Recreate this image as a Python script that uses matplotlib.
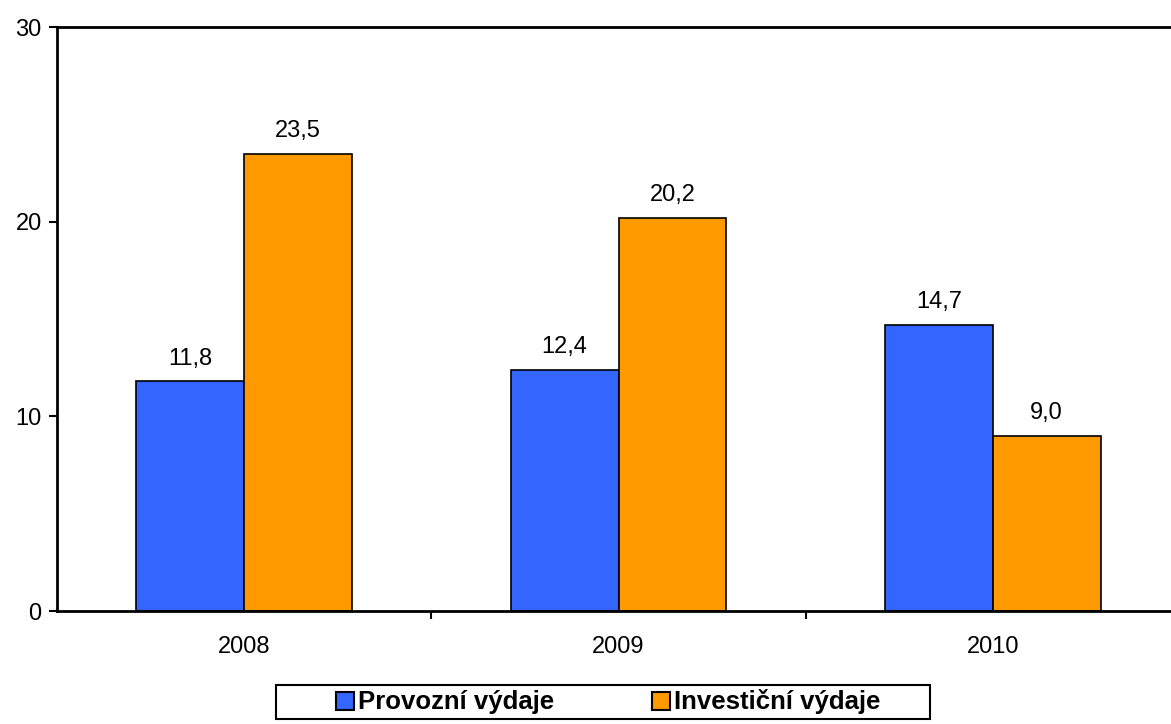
import numpy as np
import matplotlib.pyplot as plt
from matplotlib.patches import Patch, Rectangle

plt.rcParams['font.family'] = ['Liberation Sans', 'DejaVu Sans']

years = ['2008', '2009', '2010']
provozni = [11.8, 12.4, 14.7]
investicni = [23.5, 20.2, 9.0]
series_names = ['Provozní výdaje', 'Investiční výdaje']
colors = ['#3366FF', '#FF9900']

W, H = 1171, 724
fig = plt.figure(figsize=(W / 100, H / 100), dpi=100)
ax = fig.add_axes([57 / W, 1 - 611 / H, 1123 / W, 584 / H])

x = np.arange(len(years))
w = 0.288
b1 = ax.bar(x - w / 2, provozni, w, color=colors[0], edgecolor='black', linewidth=1.2)
b2 = ax.bar(x + w / 2, investicni, w, color=colors[1], edgecolor='black', linewidth=1.2)

for bars, vals in ((b1, provozni), (b2, investicni)):
    for r, v in zip(bars, vals):
        ax.annotate(f'{v:.1f}'.replace('.', ','), (r.get_x() + r.get_width() / 2, v),
                    xytext=(0, 12), textcoords='offset points', ha='center', va='baseline',
                    fontsize=17)

ax.set_xlim(-0.5, 2.5)
ax.set_ylim(0, 30)
ax.set_yticks([0, 10, 20, 30])
ax.tick_params(axis='y', direction='out', length=6, width=1.5, labelsize=17, pad=5)
ax.set_xticks([0.5, 1.5], minor=False)
ax.set_xticklabels([])
ax.set_xticks(x, minor=True)
ax.set_xticklabels(years, minor=True)
ax.tick_params(axis='x', which='major', direction='out', length=6, width=1.5)
ax.tick_params(axis='x', which='minor', length=0, labelsize=17, pad=18)
for s in ax.spines.values():
    s.set_linewidth(2)

# legend box
fig.patches.append(Rectangle((276 / W, 1 - 719 / H), 654 / W, 34 / H, transform=fig.transFigure,
                             facecolor='white', edgecolor='black', linewidth=1.5))
handles = [Patch(facecolor=c, edgecolor='black', linewidth=1.5) for c in colors]
leg = fig.legend(handles, series_names, loc='center', bbox_to_anchor=(608 / W, 1 - 702 / H),
                 ncol=2, frameon=False, prop={'weight': 'bold', 'size': 18.5},
                 handlelength=0.7, handleheight=0.7, handletextpad=0.15, columnspacing=3.8)

fig.savefig('out.png', dpi=100)
